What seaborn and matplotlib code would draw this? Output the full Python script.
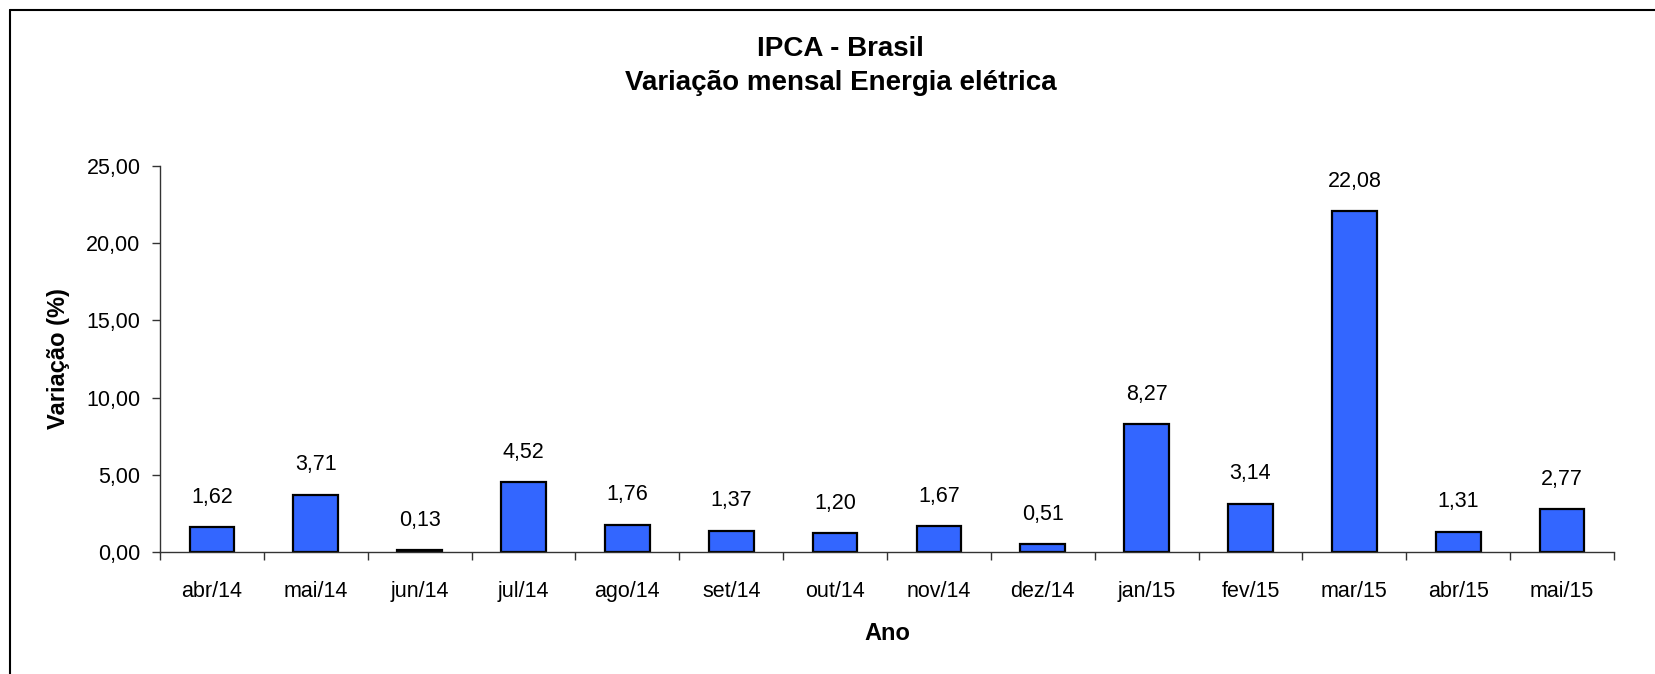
import matplotlib
matplotlib.use("Agg")
import matplotlib.pyplot as plt
import seaborn as sns
import pandas as pd
from matplotlib.lines import Line2D

months = ["abr/14", "mai/14", "jun/14", "jul/14", "ago/14", "set/14", "out/14",
          "nov/14", "dez/14", "jan/15", "fev/15", "mar/15", "abr/15", "mai/15"]
values = [1.62, 3.71, 0.13, 4.52, 1.76, 1.37, 1.20, 1.67, 0.51, 8.27, 3.14, 22.08, 1.31, 2.77]
yticks = [0, 5, 10, 15, 20, 25]

sns.set_theme(style="white")
plt.rcParams['font.family'] = ['Liberation Sans', 'DejaVu Sans']
plt.rcParams['text.color'] = 'black'
plt.rcParams['axes.labelcolor'] = 'black'

df = pd.DataFrame({"mes": months, "var": values})

W, H = 1655, 674
fig = plt.figure(figsize=(W/100, H/100), dpi=100)
ax = fig.add_axes([160/W, 1-552/H, (1614-160)/W, (552-166)/H])

sns.barplot(data=df, x="mes", y="var", ax=ax, color="#3366FF", saturation=1,
            edgecolor="black", linewidth=1.6, width=0.43)

fmt = lambda v: f"{v:.2f}".replace(".", ",")
ax.bar_label(ax.containers[0], labels=[fmt(v) for v in values], padding=14,
             fontsize=15.5, color="black")

ax.set_xlim(-0.5, len(months) - 0.5)
ax.set_ylim(0, 25)
ax.set_yticks(yticks)
ax.set_yticklabels([fmt(v) for v in yticks], fontsize=15.5, color="black")
ax.set_xticks(range(len(months)))
ax.set_xticklabels(months, fontsize=15.5, color="black")
ax.set_xticks([i - 0.5 for i in range(len(months) + 1)], minor=True)
ax.tick_params(axis="x", which="major", length=0, pad=21)
ax.tick_params(axis="x", which="minor", length=6, width=1, color="#333333", direction="out", bottom=True)
ax.tick_params(axis="y", which="major", length=6, width=1, color="#333333", direction="out", left=True, pad=8)

for s in ["top", "right"]:
    ax.spines[s].set_visible(False)
for s in ["left", "bottom"]:
    ax.spines[s].set_color("#333333")
    ax.spines[s].set_linewidth(1)

ax.set_xlabel("Ano", fontsize=17, fontweight="bold", labelpad=14, color="black")
ax.set_ylabel("Variação (%)", fontsize=17, fontweight="bold", labelpad=12, color="black")

fig.text(0.508, 1 - 66/H, "IPCA - Brasil\nVariação mensal Energia elétrica",
         ha="center", va="center", fontsize=20, fontweight="bold", linespacing=1.35,
         color="black")

fig.lines.append(Line2D([10/W, 1.0], [1 - 10/H, 1 - 10/H], transform=fig.transFigure,
                        color="black", linewidth=1.5))
fig.lines.append(Line2D([10/W, 10/W], [1 - 10/H, 0.0], transform=fig.transFigure,
                        color="black", linewidth=1.5))

fig.savefig("out.png", dpi=100, facecolor="white")
